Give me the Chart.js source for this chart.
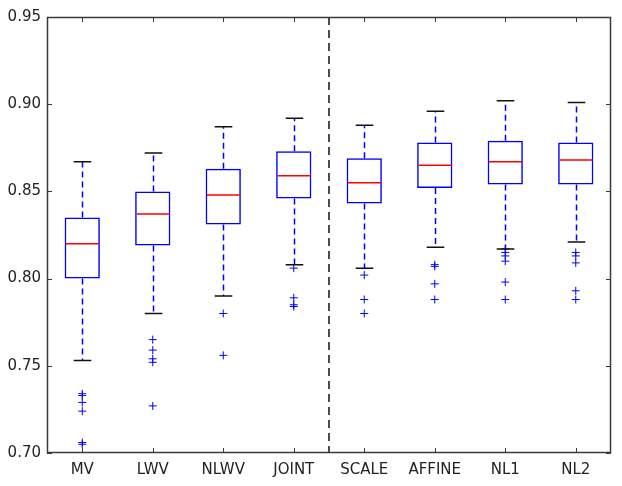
<!DOCTYPE html>
<html>
<head>
<meta charset="utf-8">
<script src="https://cdn.jsdelivr.net/npm/chart.js@4.4.1/dist/chart.umd.min.js"></script>
<style>
    body { margin: 0; background: #fff; }
    #caixa { width: 622px; height: 486px; }
</style>
</head>
<body>
<div id="caixa"><canvas id="boxplot" width="622" height="486"></canvas></div>
<script>
const categorias = ["MV", "LWV", "NLWV", "JOINT", "SCALE", "AFFINE", "NL1", "NL2"];
const bigodeBaixo = [0.753, 0.780, 0.790, 0.808, 0.806, 0.818, 0.817, 0.821];
const quartil1 = [0.800, 0.819, 0.831, 0.846, 0.843, 0.852, 0.854, 0.854];
const mediana = [0.820, 0.837, 0.848, 0.859, 0.855, 0.865, 0.867, 0.868];
const quartil3 = [0.835, 0.850, 0.863, 0.873, 0.869, 0.878, 0.879, 0.878];
const bigodeAlto = [0.867, 0.872, 0.887, 0.892, 0.888, 0.896, 0.902, 0.901];
const outliers = [
    [0.734, 0.733, 0.729, 0.724, 0.706, 0.705],
    [0.765, 0.759, 0.754, 0.752, 0.727],
    [0.780, 0.756],
    [0.806, 0.789, 0.785, 0.784],
    [0.802, 0.788, 0.780],
    [0.808, 0.807, 0.797, 0.788],
    [0.817, 0.815, 0.813, 0.810, 0.798, 0.788],
    [0.815, 0.813, 0.809, 0.793, 0.788]
];
const ticksY = [0.70, 0.75, 0.80, 0.85, 0.90, 0.95];
const divisaoDepois = 3; // linha tracejada entre JOINT e SCALE

const pontosOutliers = [];
outliers.forEach((lista, i) => {
    lista.forEach(v => pontosOutliers.push({ x: categorias[i], y: v }));
});

const desenhoBoxplot = {
    id: "desenhoBoxplot",
    afterDatasetsDraw(chart) {
        const ctx = chart.ctx;
        const x = chart.scales.x;
        const y = chart.scales.y;
        const area = chart.chartArea;
        const larguraCat = x.getPixelForValue(1) - x.getPixelForValue(0);
        const meiaCaixa = larguraCat * 0.25;
        const meioCap = larguraCat * 0.125;

        ctx.save();
        categorias.forEach((c, i) => {
            const cx = Math.round(x.getPixelForValue(i)) + 0.5;

            // bigodes
            ctx.strokeStyle = "#0000ff";
            ctx.lineWidth = 1.5;
            ctx.setLineDash([6, 4]);
            ctx.beginPath();
            ctx.moveTo(cx, y.getPixelForValue(quartil3[i]));
            ctx.lineTo(cx, y.getPixelForValue(bigodeAlto[i]));
            ctx.moveTo(cx, y.getPixelForValue(quartil1[i]));
            ctx.lineTo(cx, y.getPixelForValue(bigodeBaixo[i]));
            ctx.stroke();
            ctx.setLineDash([]);

            // caps
            ctx.strokeStyle = "#111";
            ctx.beginPath();
            ctx.moveTo(cx - meioCap, y.getPixelForValue(bigodeAlto[i]));
            ctx.lineTo(cx + meioCap, y.getPixelForValue(bigodeAlto[i]));
            ctx.moveTo(cx - meioCap, y.getPixelForValue(bigodeBaixo[i]));
            ctx.lineTo(cx + meioCap, y.getPixelForValue(bigodeBaixo[i]));
            ctx.stroke();

            // mediana
            ctx.strokeStyle = "#ff0000";
            ctx.lineWidth = 1.5;
            ctx.beginPath();
            ctx.moveTo(cx - meiaCaixa + 1, y.getPixelForValue(mediana[i]));
            ctx.lineTo(cx + meiaCaixa - 1, y.getPixelForValue(mediana[i]));
            ctx.stroke();
        });

        // linha divisoria
        const xd = (x.getPixelForValue(divisaoDepois) + x.getPixelForValue(divisaoDepois + 1)) / 2;
        ctx.strokeStyle = "#111";
        ctx.lineWidth = 1.5;
        ctx.setLineDash([8, 5]);
        ctx.beginPath();
        ctx.moveTo(xd, area.top);
        ctx.lineTo(xd, area.bottom);
        ctx.stroke();
        ctx.setLineDash([]);

        // moldura e ticks internos
        ctx.strokeStyle = "#3a3a3a";
        ctx.lineWidth = 1.5;
        ctx.strokeRect(area.left + 0.5, area.top + 0.5, area.right - area.left - 1, area.bottom - area.top - 1);
        ctx.lineWidth = 1;
        ctx.beginPath();
        ticksY.forEach(v => {
            const py = Math.round(y.getPixelForValue(v)) + 0.5;
            ctx.moveTo(area.left, py);
            ctx.lineTo(area.left + 5, py);
            ctx.moveTo(area.right, py);
            ctx.lineTo(area.right - 5, py);
        });
        categorias.forEach((c, i) => {
            const px = Math.round(x.getPixelForValue(i)) + 0.5;
            ctx.moveTo(px, area.bottom);
            ctx.lineTo(px, area.bottom - 5);
            ctx.moveTo(px, area.top);
            ctx.lineTo(px, area.top + 5);
        });
        ctx.stroke();
        ctx.restore();
    }
};

const ctxBox = document.getElementById("boxplot");

if (ctxBox) {
    new Chart(ctxBox, {
        type: "bar",
        data: {
            labels: categorias,
            datasets: [{
                data: quartil1.map((q, i) => [q, quartil3[i]]),
                backgroundColor: "rgba(0,0,0,0)",
                borderColor: "#0000ff",
                borderWidth: 1.5,
                borderSkipped: false,
                barPercentage: 0.5,
                categoryPercentage: 1
            }, {
                type: "line",
                data: pontosOutliers,
                showLine: false,
                pointStyle: "cross",
                pointRadius: 4,
                pointBorderWidth: 1,
                borderColor: "#0000ff",
                backgroundColor: "#0000ff"
            }]
        },
        plugins: [desenhoBoxplot],
        options: {
            responsive: false,
            animation: false,
            layout: { padding: { top: 17, right: 11, left: 0, bottom: 0 } },
            plugins: { legend: { display: false }, tooltip: { enabled: false } },
            scales: {
                x: {
                    grid: { display: false, drawTicks: false },
                    border: { display: false },
                    ticks: { color: "#222", padding: 8, font: { family: "DejaVu Sans", size: 15 } },
                    afterFit(scale) { scale.height = 33; }
                },
                y: {
                    min: 0.70,
                    max: 0.95,
                    afterBuildTicks(scale) { scale.ticks = ticksY.map(v => ({ value: v })); },
                    grid: { display: false, drawTicks: false },
                    border: { display: false },
                    ticks: {
                        color: "#222",
                        padding: 6,
                        font: { family: "DejaVu Sans", size: 15 },
                        callback: v => v.toFixed(2)
                    },
                    afterFit(scale) { scale.width = 47; }
                }
            }
        }
    });
}
</script>
</body>
</html>
